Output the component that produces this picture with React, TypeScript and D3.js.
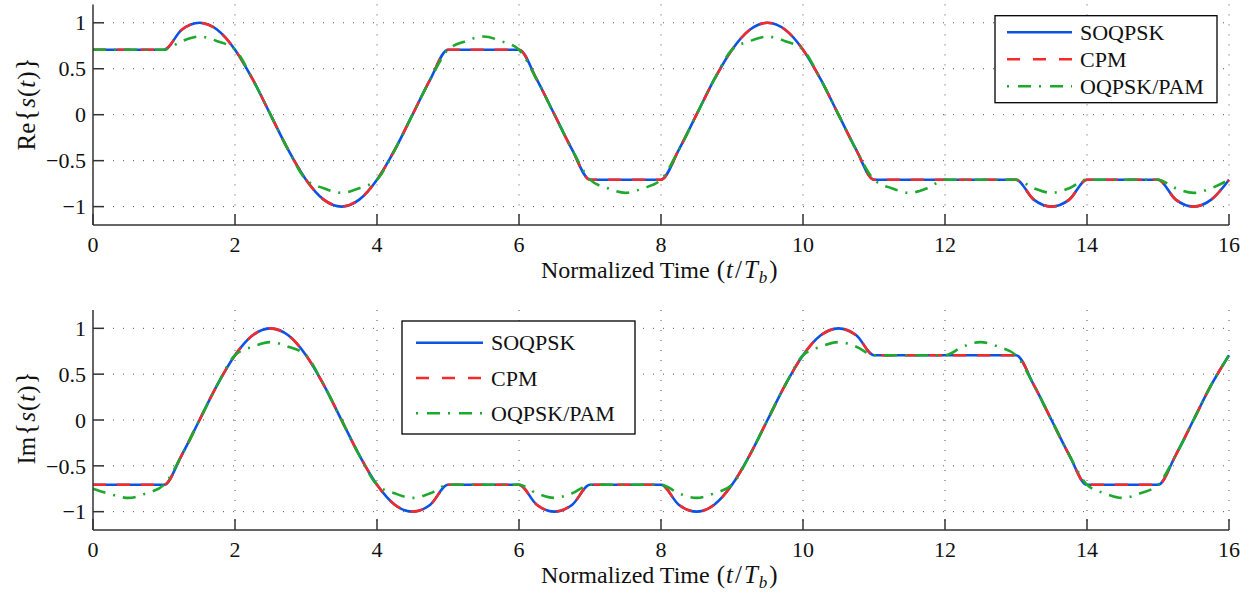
import React from 'react';
import * as d3 from 'd3';

// ---- data (sampled every 0.25 Tb, t = 0 .. 16) ----
const sampleStep = 0.25;
const xTicks = [0, 2, 4, 6, 8, 10, 12, 14, 16];
const yTicks = [-1, -0.5, 0, 0.5, 1];
const yTickLabels = ['\u22121', '\u22120.5', '0', '0.5', '1'];
const seriesNames = ['SOQPSK', 'CPM', 'OQPSK/PAM'];

const soqpskRe = [
  0.707, 0.707, 0.707, 0.707, 0.707,
  0.924, 1, 0.924, 0.707,
  0.383, 0, -0.383, -0.707,
  -0.924, -1, -0.924, -0.707,
  -0.383, 0, 0.383, 0.707,
  0.707, 0.707, 0.707, 0.707,
  0.383, 0, -0.383, -0.707,
  -0.707, -0.707, -0.707, -0.707,
  -0.383, 0, 0.383, 0.707,
  0.924, 1, 0.924, 0.707,
  0.383, 0, -0.383, -0.707,
  -0.707, -0.707, -0.707, -0.707, -0.707, -0.707, -0.707, -0.707,
  -0.924, -1, -0.924, -0.707,
  -0.707, -0.707, -0.707, -0.707,
  -0.924, -1, -0.924, -0.707,
];
const cpmRe = [
  0.707, 0.707, 0.707, 0.707, 0.707,
  0.924, 1, 0.924, 0.707,
  0.383, 0, -0.383, -0.707,
  -0.924, -1, -0.924, -0.707,
  -0.383, 0, 0.383, 0.707,
  0.707, 0.707, 0.707, 0.707,
  0.383, 0, -0.383, -0.707,
  -0.707, -0.707, -0.707, -0.707,
  -0.383, 0, 0.383, 0.707,
  0.924, 1, 0.924, 0.707,
  0.383, 0, -0.383, -0.707,
  -0.707, -0.707, -0.707, -0.707, -0.707, -0.707, -0.707, -0.707,
  -0.924, -1, -0.924, -0.707,
  -0.707, -0.707, -0.707, -0.707,
  -0.924, -1, -0.924, -0.707,
];
const pamRe = [
  0.707, 0.707, 0.707, 0.707, 0.707,
  0.80, 0.85, 0.80, 0.707,
  0.383, 0, -0.383, -0.707,
  -0.80, -0.85, -0.80, -0.707,
  -0.383, 0, 0.383, 0.707,
  0.80, 0.85, 0.80, 0.707,
  0.383, 0, -0.383, -0.707,
  -0.80, -0.85, -0.80, -0.707,
  -0.383, 0, 0.383, 0.707,
  0.80, 0.85, 0.80, 0.707,
  0.383, 0, -0.383, -0.707,
  -0.80, -0.85, -0.80, -0.707,
  -0.707, -0.707, -0.707, -0.707,
  -0.80, -0.85, -0.80, -0.707,
  -0.707, -0.707, -0.707, -0.707,
  -0.80, -0.85, -0.80, -0.707,
];

const soqpskIm = [
  -0.707, -0.707, -0.707, -0.707, -0.707,
  -0.383, 0, 0.383, 0.707,
  0.924, 1, 0.924, 0.707,
  0.383, 0, -0.383, -0.707,
  -0.924, -1, -0.924, -0.707,
  -0.707, -0.707, -0.707, -0.707,
  -0.924, -1, -0.924, -0.707,
  -0.707, -0.707, -0.707, -0.707,
  -0.924, -1, -0.924, -0.707,
  -0.383, 0, 0.383, 0.707,
  0.924, 1, 0.924, 0.707,
  0.707, 0.707, 0.707, 0.707, 0.707, 0.707, 0.707, 0.707,
  0.383, 0, -0.383, -0.707,
  -0.707, -0.707, -0.707, -0.707,
  -0.383, 0, 0.383, 0.707,
];
const cpmIm = [
  -0.707, -0.707, -0.707, -0.707, -0.707,
  -0.383, 0, 0.383, 0.707,
  0.924, 1, 0.924, 0.707,
  0.383, 0, -0.383, -0.707,
  -0.924, -1, -0.924, -0.707,
  -0.707, -0.707, -0.707, -0.707,
  -0.924, -1, -0.924, -0.707,
  -0.707, -0.707, -0.707, -0.707,
  -0.924, -1, -0.924, -0.707,
  -0.383, 0, 0.383, 0.707,
  0.924, 1, 0.924, 0.707,
  0.707, 0.707, 0.707, 0.707, 0.707, 0.707, 0.707, 0.707,
  0.383, 0, -0.383, -0.707,
  -0.707, -0.707, -0.707, -0.707,
  -0.383, 0, 0.383, 0.707,
];
const pamIm = [
  -0.75, -0.81, -0.85, -0.80, -0.707,
  -0.383, 0, 0.383, 0.707,
  0.80, 0.85, 0.80, 0.707,
  0.383, 0, -0.383, -0.707,
  -0.80, -0.85, -0.80, -0.707,
  -0.707, -0.707, -0.707, -0.707,
  -0.80, -0.85, -0.80, -0.707,
  -0.707, -0.707, -0.707, -0.707,
  -0.80, -0.85, -0.80, -0.707,
  -0.383, 0, 0.383, 0.707,
  0.80, 0.85, 0.80, 0.707,
  0.707, 0.707, 0.707, 0.707,
  0.80, 0.85, 0.80, 0.707,
  0.383, 0, -0.383, -0.707,
  -0.80, -0.85, -0.80, -0.707,
  -0.383, 0, 0.383, 0.707,
];

// ---- styles ----
const FONT = '"Liberation Serif", "Times New Roman", Times, serif';
const COLORS = ['#0d52e3', '#f52a2a', '#1fa82e'];
const DASHES = ['none', '13 11', '13 8 2 8'];
const LEGEND_DASHES = ['none', '13 13', '2 9 13 8'];
const LEFT = 93;
const RIGHT = 1229;
const AXIS_COLOR = '#333';

type PanelProps = {
  top: number;
  bottom: number;
  series: number[][];
  labelPrefix: string;
  labelMid: number;
  legend: { x: number; y: number; w: number; h: number; row: number; lineX: number; lineW: number; textX: number; firstY: number };
};

function Panel({ top, bottom, series, labelPrefix, labelMid, legend }: PanelProps) {
  const x = d3.scaleLinear().domain([0, 16]).range([LEFT, RIGHT]);
  const y = d3.scaleLinear().domain([-1.2, 1.2]).range([bottom, top]);
  const line = d3
    .line<number>()
    .x((_, i) => x(i * sampleStep))
    .y((d) => y(d))
    .curve(d3.curveMonotoneX);
  return (
    <g>
      {/* grid */}
      {xTicks.filter((t) => t !== 0).map((t) => (
        <line key={'gx' + t} x1={x(t)} x2={x(t)} y1={top} y2={bottom} stroke="#555" strokeWidth={1} strokeDasharray="1 9" />
      ))}
      {yTicks.map((t) => (
        <line key={'gy' + t} x1={LEFT} x2={RIGHT} y1={y(t)} y2={y(t)} stroke="#555" strokeWidth={1} strokeDasharray="1 9" />
      ))}
      {/* series */}
      {series.map((s, i) => (
        <path key={'s' + i} d={line(s) || ''} fill="none" stroke={COLORS[i]} strokeWidth={2.6} strokeDasharray={DASHES[i]} />
      ))}
      {/* axes */}
      <line x1={LEFT} x2={LEFT} y1={top} y2={bottom} stroke={AXIS_COLOR} strokeWidth={1.5} />
      <line x1={LEFT} x2={RIGHT} y1={bottom} y2={bottom} stroke={AXIS_COLOR} strokeWidth={1.5} />
      {xTicks.map((t) => (
        <g key={'tx' + t}>
          <line x1={x(t)} x2={x(t)} y1={bottom} y2={bottom - 11} stroke={AXIS_COLOR} strokeWidth={1.5} />
          <text x={x(t)} y={bottom + 27} textAnchor="middle" fontFamily={FONT} fontSize={22} fill="#111">{t}</text>
        </g>
      ))}
      {yTicks.map((t, i) => (
        <g key={'ty' + t}>
          <line x1={LEFT} x2={LEFT + 11} y1={y(t)} y2={y(t)} stroke={AXIS_COLOR} strokeWidth={1.5} />
          <text x={86} y={y(t)} dy="0.35em" textAnchor="end" fontFamily={FONT} fontSize={22} fill="#111">{yTickLabels[i]}</text>
        </g>
      ))}
      {/* x label */}
      <text x={541} y={bottom + 53} textAnchor="start" fontFamily={FONT} fontSize={24} fill="#111">
        Normalized Time<tspan dx={7} fontSize={25}>(</tspan>
        <tspan fontStyle="italic" fontSize={25} dx={1}>t</tspan>
        <tspan fontSize={25} dx={2}>/</tspan>
        <tspan fontStyle="italic" fontSize={25} dx={2}>T</tspan>
        <tspan fontStyle="italic" fontSize={17} dy={5} dx={1}>b</tspan>
        <tspan dy={-5} dx={2} fontSize={25}>)</tspan>
      </text>
      {/* y label */}
      <text transform={`translate(35,${labelMid}) rotate(-90)`} textAnchor="middle" fontFamily={FONT} fontSize={25} fill="#111">
        {labelPrefix}<tspan fontSize={27} dx={1}>{'{'}</tspan>
        <tspan fontStyle="italic" dx={1}>s</tspan>
        <tspan dx={1}>(</tspan>
        <tspan fontStyle="italic" dx={1}>t</tspan>
        <tspan dx={1}>)</tspan>
        <tspan fontSize={27} dx={1}>{'}'}</tspan>
      </text>
      {/* legend */}
      <rect x={legend.x} y={legend.y} width={legend.w} height={legend.h} fill="#fff" stroke="#000" strokeWidth={1.3} />
      {seriesNames.map((n, i) => (
        <g key={'lg' + i}>
          <line
            x1={legend.lineX}
            x2={legend.lineX + legend.lineW}
            y1={legend.firstY + i * legend.row}
            y2={legend.firstY + i * legend.row}
            stroke={COLORS[i]}
            strokeWidth={2.6}
            strokeDasharray={LEGEND_DASHES[i]}
          />
          <text x={legend.textX} y={legend.firstY + i * legend.row} dy="0.35em" fontFamily={FONT} fontSize={22} fill="#111">{n}</text>
        </g>
      ))}
    </g>
  );
}

export default function App() {
  return (
    <svg width={1251} height={596} style={{ position: 'absolute', left: 0, top: 0, background: '#fff' }}>
      <rect width={1251} height={596} fill="#fff" />
      <Panel
        top={4.4}
        bottom={225}
        series={[soqpskRe, cpmRe, pamRe]}
        labelPrefix="Re"
        labelMid={104}
        legend={{ x: 995, y: 15.7, w: 222, h: 87, row: 27, lineX: 1007, lineW: 65, textX: 1080, firstY: 32.3 }}
      />
      <Panel
        top={310}
        bottom={530}
        series={[soqpskIm, cpmIm, pamIm]}
        labelPrefix="Im"
        labelMid={418}
        legend={{ x: 402, y: 321, w: 233, h: 113, row: 35.3, lineX: 416, lineW: 67, textX: 491, firstY: 342.7 }}
      />
    </svg>
  );
}
